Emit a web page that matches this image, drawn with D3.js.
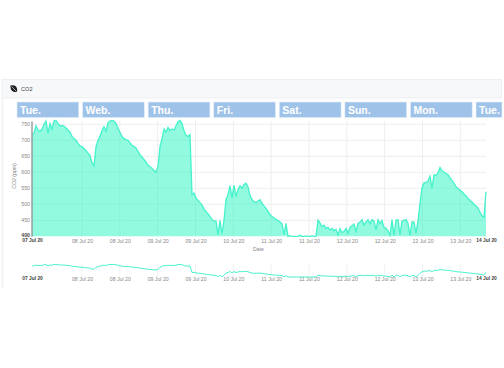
<!DOCTYPE html>
<html>
<head>
<meta charset="utf-8">
<script src="https://cdn.jsdelivr.net/npm/d3@7"></script>
<style>
  html, body { margin: 0; padding: 0; background: #fff; overflow: hidden; }
  text { font-family: "Liberation Sans", Arial, sans-serif; }
</style>
</head>
<body>
<div id="chart"></div>
<script>
const width = 504, height = 368

// DATA
const dayLabels = ["Tue.", "Web.", "Thu.", "Fri.", "Sat.", "Sun.", "Mon.", "Tue."]
const yTicks = [400, 450, 500, 550, 600, 650, 700, 750]
const startTime = new Date(2020, 6, 7, 8, 30)
const endTime = new Date(2020, 6, 14, 8, 30)
const firstTick = new Date(2020, 6, 8, 3, 0)
const tickHours = 14

const co2 = [
  717, 722, 745, 732, 728, 735, 750, 760, 722, 752, 735, 760, 762, 752, 745, 746, 744, 738, 732, 725,
  712, 705, 700, 690, 682, 680, 674, 668, 660, 652, 630, 620, 680, 700, 712, 730, 742, 728, 755, 760,
  762, 760, 752, 738, 725, 712, 705, 702, 700, 692, 684, 680, 676, 665, 655, 648, 640, 632, 622, 618,
  612, 606, 600, 618, 680, 705, 735, 725, 740, 730, 735, 732, 745, 758, 762, 752, 730, 715, 712, 718,
  530, 535, 520, 512, 505, 498, 485, 478, 470, 462, 452, 448, 448, 405, 450, 408, 450, 515, 530, 558,
  520, 560, 525, 545, 558, 550, 562, 566, 555, 528, 515, 508, 506, 510, 514, 503, 495, 488, 478, 468,
  462, 458, 452, 450, 445, 440, 405, 440, 400, 402, 400, 400, 400, 400, 403, 400, 400, 401, 400, 400,
  402, 400, 400, 451, 442, 430, 435, 425, 428, 420, 425, 418, 422, 404, 424, 412, 415, 425, 410, 428,
  433, 438, 415, 440, 445, 452, 435, 445, 452, 440, 452, 448, 420, 452, 440, 450, 428, 425, 418, 404,
  452, 402, 450, 452, 405, 448, 450, 452, 440, 403, 445, 445, 410, 448, 504, 551, 567, 568, 572, 588,
  550, 592, 590, 598, 615, 605, 600, 596, 592, 583, 574, 566, 555, 549, 544, 539, 532, 526, 518, 512,
  507, 500, 495, 488, 476, 464, 460, 539
]

const stepMs = (endTime - startTime) / (co2.length - 1)
const series = co2.map((v, i) => ({ date: new Date(+startTime + i * stepMs), value: v }))

const tickDates = [startTime]
for (let t = +firstTick; t < +endTime - 3600000; t += tickHours * 3600000) tickDates.push(new Date(t))
tickDates.push(endTime)

// SCALES
const xScale = d3.scaleTime().domain([startTime, endTime]).range([32, 486])
const yScale = d3.scaleLinear().domain([400, 760]).range([236.3, 121])
const yMini = d3.scaleLinear().domain([400, 760]).range([277, 264.5])
const bandScale = d3.scaleBand().domain(d3.range(dayLabels.length)).range([17, 537.8]).paddingInner(0.058)

const svg = d3.select("#chart").append("svg")
  .attr("width", width)
  .attr("height", height)
  .style("display", "block")

// CARD
svg.append("rect").attr("x", 2).attr("y", 79.5).attr("width", 499.5).attr("height", 18.5)
  .attr("fill", "#f7f8f9").attr("stroke", "#eeeff1")
svg.append("line").attr("x1", 2.5).attr("x2", 2.5).attr("y1", 98).attr("y2", 288)
  .attr("stroke", "#f0f1f3").attr("stroke-width", 1.5)

// leaf icon
svg.append("path")
  .attr("transform", "translate(9.5,84.5)")
  .attr("d", "M1 1 C4 0 7 1 7.5 4 C8 6 7.5 7.5 6.5 7.5 C3 8 0.5 5 1 1 Z")
  .attr("fill", "#222")
svg.append("path")
  .attr("transform", "translate(9.5,84.5)")
  .attr("d", "M2 2 L6.5 6.5")
  .attr("stroke", "#ddd").attr("stroke-width", 0.7)

svg.append("text").attr("x", 21).attr("y", 90.5)
  .attr("font-size", 5.6).attr("fill", "#444").text("CO2")

// DAY BANNERS
const banners = svg.append("g").selectAll("g")
  .data(dayLabels)
  .join("g")
banners.append("rect")
  .attr("x", (d, i) => bandScale(i))
  .attr("y", 102)
  .attr("width", (d, i) => Math.min(bandScale.bandwidth(), 502 - bandScale(i)))
  .attr("height", 15.6)
  .attr("fill", "#9fc3e8")
  .attr("stroke", "#e4eef8")
  .attr("stroke-width", 0.6)
banners.append("text")
  .attr("x", (d, i) => bandScale(i) + 3)
  .attr("y", 113.5)
  .attr("fill", "#fff")
  .attr("font-family", "'Open Sans', sans-serif")
  .attr("font-size", 10.5)
  .attr("font-weight", 600)
  .text(d => d)

// GRID
const grid = svg.append("g").attr("stroke", "#eeeeee").attr("stroke-width", 1)
grid.selectAll(".h").data(yTicks.slice(1)).join("line")
  .attr("x1", 32).attr("x2", 486)
  .attr("y1", d => yScale(d)).attr("y2", d => yScale(d))
grid.selectAll(".v").data(tickDates.slice(1, -1)).join("line")
  .attr("x1", d => xScale(d)).attr("x2", d => xScale(d))
  .attr("y1", 121).attr("y2", 236.3)

// AREA
const area = d3.area().x(d => xScale(d.date)).y0(yScale(400)).y1(d => yScale(d.value))
const line = d3.line().x(d => xScale(d.date)).y(d => yScale(d.value))

svg.append("path").datum(series).attr("d", area)
  .attr("fill", "#2ff5c3").attr("fill-opacity", 0.53)
svg.append("path").datum(series).attr("d", line)
  .attr("fill", "none").attr("stroke", "#2ff0c6").attr("stroke-opacity", 0.85).attr("stroke-width", 1.3)

// AXES
function styleX(g, y) {
  g.attr("transform", `translate(0,${y})`)
    .call(d3.axisBottom(xScale).tickValues(tickDates).tickSize(0).tickPadding(0)
      .tickFormat(d3.timeFormat("%d %b %y")))
  g.select(".domain").remove()
  g.selectAll("text")
    .attr("font-size", 5.2)
    .attr("fill", "#888")
    .attr("font-weight", 400)
  g.selectAll(".tick").filter((d, i) => i === 0 || i === tickDates.length - 1)
    .select("text").attr("fill", "#444").attr("font-size", 4.9).attr("font-weight", 700)
}
svg.append("g").call(g => styleX(g, 239))
svg.append("g").call(g => styleX(g, 277))

const yAxis = svg.append("g").attr("transform", "translate(31.5,0)")
  .call(d3.axisLeft(yScale).tickValues(yTicks).tickSize(0).tickPadding(1.5))
yAxis.select(".domain").attr("stroke", "#888").attr("stroke-width", 1.2)
yAxis.selectAll("text").attr("font-size", 5.2).attr("fill", "#888")
yAxis.selectAll(".tick").filter(d => d === 400).select("text")
  .attr("fill", "#444").attr("font-weight", 700).attr("dy", "0.1em")

svg.append("text").attr("x", 258.5).attr("y", 250.5).attr("text-anchor", "middle")
  .attr("font-size", 5.2).attr("fill", "#888").text("Date")
svg.append("text")
  .attr("transform", "translate(16,176) rotate(-90)")
  .attr("text-anchor", "middle")
  .attr("font-size", 5.2).attr("fill", "#888").text("CO2 (ppm)")

// MINI CHART
const miniLine = d3.line().x(d => xScale(d.date)).y(d => yMini(d.value))
svg.append("g").attr("stroke", "#f2f2f2")
  .selectAll("line").data(tickDates.slice(1, -1)).join("line")
  .attr("x1", d => xScale(d)).attr("x2", d => xScale(d))
  .attr("y1", 264).attr("y2", 277)
svg.append("path").datum(series).attr("d", miniLine)
  .attr("fill", "none").attr("stroke", "#2ff0c6").attr("stroke-opacity", 0.85).attr("stroke-width", 1)
</script>
</body>
</html>
